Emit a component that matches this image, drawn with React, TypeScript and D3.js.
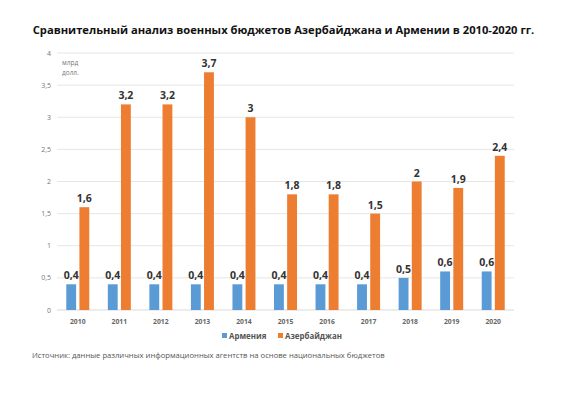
import * as d3 from 'd3';

const YEARS = ['2010', '2011', '2012', '2013', '2014', '2015', '2016', '2017', '2018', '2019', '2020'];
const ARMENIA = [0.4, 0.4, 0.4, 0.4, 0.4, 0.4, 0.4, 0.4, 0.5, 0.6, 0.6];
const AZERBAIJAN = [1.6, 3.2, 3.2, 3.7, 3, 1.8, 1.8, 1.5, 2, 1.9, 2.4];
const Y_TICKS = [0, 0.5, 1, 1.5, 2, 2.5, 3, 3.5, 4];
const SERIES = [
  { name: 'Армения', values: ARMENIA, color: '#5B9BD5' },
  { name: 'Азербайджан', values: AZERBAIJAN, color: '#ED7D31' },
];

const W = 561, H = 393;
const padL = 57, padR = 47, padT = 53, plotBottom = 310;
const font = '"Open Sans", "Noto Sans", sans-serif';
const fmt = (v: number) => String(v).replace('.', ',');

export default function App() {
  const x = d3.scaleBand().domain(YEARS).range([padL, W - padR]);
  const inner = d3.scaleBand().domain(SERIES.map((s) => s.name)).range([0, 23]).paddingInner(0.25);
  const y = d3.scaleLinear().domain([0, 4]).range([plotBottom, padT]);
  const groupOffset = (x.bandwidth() - 23) / 2;

  return (
    <svg width={W} height={H} style={{ position: 'absolute', left: 0, top: 0, background: '#fff' }} fontFamily={font}>
      <text x={W / 2 + 3} y={34} textAnchor="middle" fontSize={11.2} fontWeight="bold" fill="#111">
        Сравнительный анализ военных бюджетов Азербайджана и Армении в 2010-2020 гг.
      </text>

      {Y_TICKS.map((t) => (
        <g key={t}>
          <line x1={padL} x2={W - padR} y1={y(t)} y2={y(t)} stroke={t === 0 ? '#d9d9d9' : '#e6e6e6'} strokeWidth={1} />
          <text x={51} y={y(t) + 2.5} textAnchor="end" fontSize={7} fill="#777">{fmt(t)}</text>
        </g>
      ))}

      <text x={62} y={65} fontSize={6.5} fill="#777">млрд</text>
      <text x={62} y={75} fontSize={6.5} fill="#777">долл.</text>

      {YEARS.map((yr, i) => (
        <g key={yr}>
          {SERIES.map((s) => {
            const bx = x(yr)! + groupOffset + inner(s.name)!;
            const bw = inner.bandwidth();
            const v = s.values[i];
            return (
              <g key={s.name}>
                <rect x={bx} y={y(v)} width={bw} height={plotBottom - y(v)} fill={s.color} />
                <text x={bx + bw / 2} y={y(v) - 5} textAnchor="middle" fontSize={10.5} fontWeight="bold" fill="#333">
                  {fmt(v)}
                </text>
              </g>
            );
          })}
          <text x={x(yr)! + x.bandwidth() / 2} y={324} textAnchor="middle" fontSize={6.8} fontWeight="bold" fill="#666">{yr}</text>
        </g>
      ))}

      {SERIES.map((s, i) => {
        const lx = i === 0 ? 222 : 278;
        return (
          <g key={s.name}>
            <rect x={lx} y={333} width={5} height={5} fill={s.color} />
            <text x={lx + 7} y={338.5} fontSize={7.9} fontWeight="bold" fill="#555">{s.name}</text>
          </g>
        );
      })}

      <text x={32} y={358} fontSize={7.65} fill="#555">
        Источник: данные различных информационных агентств на основе национальных бюджетов
      </text>
    </svg>
  );
}
